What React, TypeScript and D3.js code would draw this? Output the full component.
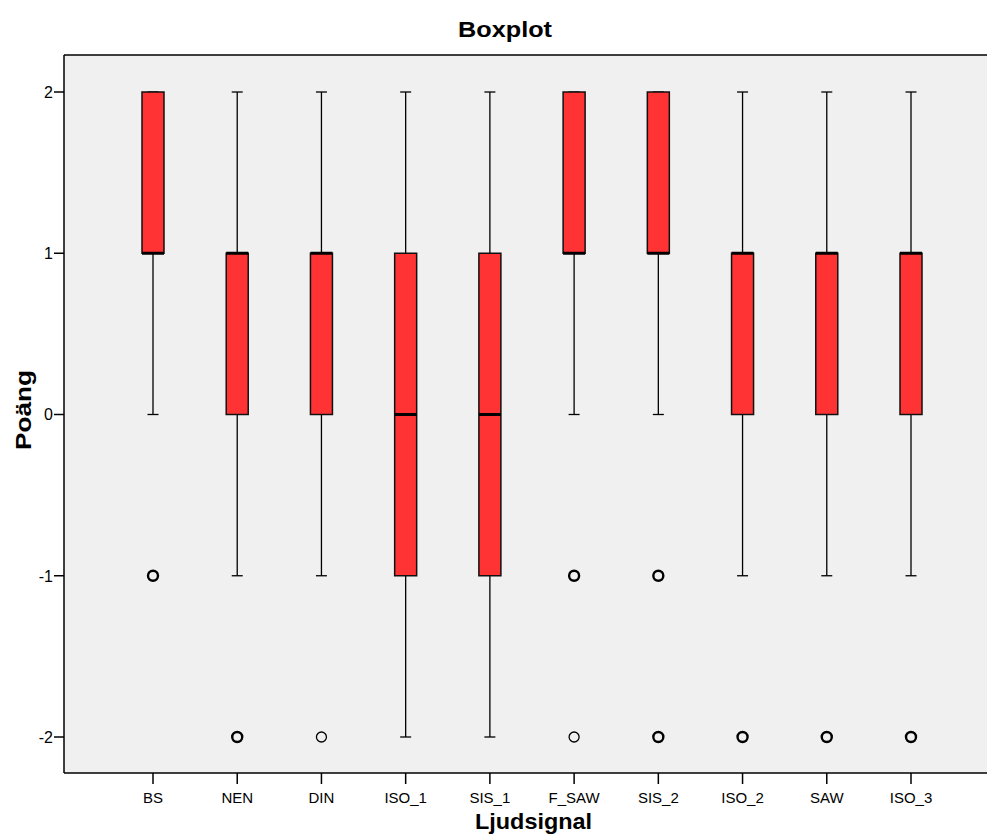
import React from "react";
import * as d3 from "d3";

const categories = ["BS", "NEN", "DIN", "ISO_1", "SIS_1", "F_SAW", "SIS_2", "ISO_2", "SAW", "ISO_3"];
const whiskerLow = [0, -1, -1, -2, -2, 0, 0, -1, -1, -1];
const q1 = [1, 0, 0, -1, -1, 1, 1, 0, 0, 0];
const median = [1, 1, 1, 0, 0, 1, 1, 1, 1, 1];
const q3 = [2, 1, 1, 1, 1, 2, 2, 1, 1, 1];
const whiskerHigh = [2, 2, 2, 2, 2, 2, 2, 2, 2, 2];
// outlier value and number of overlapping cases
const outlierValues = [[-1], [-2], [-2], [], [], [-1, -2], [-1, -2], [-2], [-2], [-2]];
const outlierCounts = [[2], [2], [1], [], [], [2, 1], [2, 2], [2], [2], [2]];
const yTicks = [-2, -1, 0, 1, 2];

const W = 987;
const H = 834;
const plotLeft = 64;
const plotTop = 55;
const plotBottom = 773;
const font = "'Liberation Sans', Arial, sans-serif";

export default function App() {
  const x = d3.scalePoint<string>().domain(categories).range([plotLeft + 89, plotLeft + 847]);
  const y = d3.scaleLinear().domain([-2, 2]).range([737, 92]);
  const boxW = 22;
  const capW = 11;

  return (
    <svg width={W} height={H} style={{ position: "absolute", left: 0, top: 0, background: "#fff" }} fontFamily={font}>
      <rect x={plotLeft} y={plotTop} width={W - plotLeft + 20} height={plotBottom - plotTop} fill="#F0F0F0" />
      <text x={505} y={37} textAnchor="middle" fontWeight="bold" fontSize={22} textLength={94} lengthAdjust="spacingAndGlyphs">Boxplot</text>

      {categories.map((c, i) => {
        const cx = x(c)!;
        return (
          <g key={c}>
            <line x1={cx} x2={cx} y1={y(whiskerHigh[i])} y2={y(q3[i])} stroke="#000" strokeWidth={1.3} />
            <line x1={cx} x2={cx} y1={y(q1[i])} y2={y(whiskerLow[i])} stroke="#000" strokeWidth={1.3} />
            <line x1={cx - capW / 2} x2={cx + capW / 2} y1={y(whiskerHigh[i])} y2={y(whiskerHigh[i])} stroke="#000" strokeWidth={1.3} />
            <line x1={cx - capW / 2} x2={cx + capW / 2} y1={y(whiskerLow[i])} y2={y(whiskerLow[i])} stroke="#000" strokeWidth={1.3} />
            <rect x={cx - boxW / 2} y={y(q3[i])} width={boxW} height={y(q1[i]) - y(q3[i])} fill="#FF3333" stroke="#111" strokeWidth={1.5} />
            <line x1={cx - boxW / 2} x2={cx + boxW / 2} y1={y(median[i])} y2={y(median[i])} stroke="#000" strokeWidth={3} />
            {outlierValues[i].map((v, j) => (
              <circle key={j} cx={cx} cy={y(v)} r={5} fill="none" stroke="#000" strokeWidth={outlierCounts[i][j] > 1 ? 2.4 : 1.3} />
            ))}
          </g>
        );
      })}

      {/* borders */}
      <line x1={plotLeft} x2={W} y1={plotTop} y2={plotTop} stroke="#000" strokeWidth={1.5} />
      <line x1={plotLeft} x2={plotLeft} y1={plotTop} y2={plotBottom} stroke="#000" strokeWidth={1.5} />
      <line x1={plotLeft} x2={W} y1={plotBottom} y2={plotBottom} stroke="#000" strokeWidth={1.5} />

      {/* y axis */}
      {yTicks.map((t) => (
        <g key={t}>
          <line x1={plotLeft - 10} x2={plotLeft} y1={y(t)} y2={y(t)} stroke="#000" strokeWidth={1.5} />
          <text x={plotLeft - 11} y={y(t)} dy="0.36em" textAnchor="end" fontSize={16}>{t}</text>
        </g>
      ))}
      <text transform={`translate(31,${410}) rotate(-90)`} textAnchor="middle" fontWeight="bold" fontSize={22} textLength={80} lengthAdjust="spacingAndGlyphs">Poäng</text>

      {/* x axis */}
      {categories.map((c) => (
        <g key={c}>
          <line x1={x(c)!} x2={x(c)!} y1={plotBottom} y2={plotBottom + 11} stroke="#000" strokeWidth={1.5} />
          <text x={x(c)!} y={803} textAnchor="middle" fontSize={15}>{c}</text>
        </g>
      ))}
      <text x={533.5} y={829} textAnchor="middle" fontWeight="bold" fontSize={22} textLength={117} lengthAdjust="spacingAndGlyphs">Ljudsignal</text>
    </svg>
  );
}
